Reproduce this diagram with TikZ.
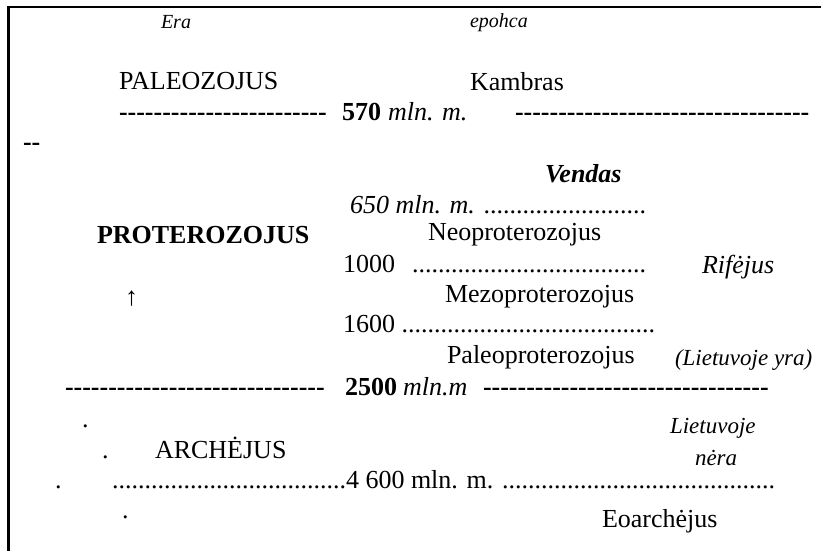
\documentclass[tikz,border=0pt]{standalone}
\usepackage{fontspec}
\setmainfont{Liberation Serif}[Ligatures=TeXOff]
\begin{document}
\begin{tikzpicture}[x=1pt,y=-1pt,
  txt/.style={anchor=base west,inner sep=0pt,outer sep=0pt,font=\fontsize{26}{31}\selectfont},
  small/.style={anchor=base west,inner sep=0pt,outer sep=0pt,font=\fontsize{20}{24}\selectfont\itshape},
  mid/.style={anchor=base west,inner sep=0pt,outer sep=0pt,font=\fontsize{23}{28}\selectfont\itshape},
  frame/.style={line width=2.5pt,black}]
\useasboundingbox (0,0) rectangle (821,550);
\coordinate (tl) at (8.5,7);
\coordinate (tr) at (821,7);
\coordinate (bl) at (8.5,550);
\draw[frame,line cap=rect] (tr) -- (tl) -- (bl);
% header
\node[small] (era) at (161,28) {Era};
\node[small] (epo) at (470,27) {epohca};
% Paleozoic
\node[txt] (paleo) at (119,89) {PALEOZOJUS};
\node[txt] (kamb) at (470,90) {Kambras};
\node[txt,font=\fontsize{26}{31}\selectfont\bfseries] (d1l) at (119,120) {------------------------};
\node[txt,font=\fontsize{26}{31}\selectfont\bfseries] (n570) at (342,120) {570};
\node[txt,font=\fontsize{26}{31}\selectfont\itshape] (m570) at (388,120) {mln. m.};
\node[txt,font=\fontsize{26}{31}\selectfont\bfseries] (d1r) at (515,120) {----------------------------------};
\node[txt,font=\fontsize{26}{31}\selectfont\bfseries] (d1w) at (23,150) {--};
% Proterozoic
\node[txt,font=\fontsize{26}{31}\selectfont\bfseries\itshape] (vend) at (545,182) {Vendas};
\node[txt] (n650) at (350,213) {\textit{650 mln. m.} .........................};
\node[txt,font=\fontsize{26}{31}\selectfont\bfseries] (prot) at (97,243) {PROTEROZOJUS};
\node[txt] (neo) at (428,240) {Neoproterozojus};
\node[txt] (n1000) at (343,272) {1000};
\node[txt] (dots1000) at (412,272) {....................................};
\node[txt,font=\fontsize{26}{31}\selectfont\itshape] (rif) at (702,273) {Rifėjus};
\node[txt] (arr) at (125,305) {↑};
\node[txt] (mezo) at (445,302) {Mezoproterozojus};
\node[txt] (n1600) at (343,332) {1600 .......................................};
\node[txt] (paleop) at (447,363) {Paleoproterozojus};
\node[mid] (lyra) at (675,365) {(Lietuvoje yra)};
\node[txt,font=\fontsize{26}{31}\selectfont\bfseries] (d2l) at (65,395) {------------------------------};
\node[txt,font=\fontsize{26}{31}\selectfont\bfseries] (n2500) at (345,395) {2500};
\node[txt,font=\fontsize{26}{31}\selectfont\itshape] (m2500) at (403,395) {mln.m};
\node[txt,font=\fontsize{26}{31}\selectfont\bfseries] (d2r) at (483,395) {---------------------------------};
% Archean
\node[txt] (p1) at (82,427) {.};
\node[mid] (liet) at (670,433) {Lietuvoje};
\node[txt] (p2) at (102,458) {.};
\node[txt] (arch) at (155,458) {ARCHĖJUS};
\node[mid] (nera) at (695,465) {nėra};
\node[txt] (p3) at (55,488) {.};
\node[txt] (n4600) at (112,488) {....................................4 600 mln. m. ..........................................};
\node[txt] (p4) at (122,518) {.};
\node[txt] (eoar) at (602,527) {Eoarchėjus};
\end{tikzpicture}
\end{document}
